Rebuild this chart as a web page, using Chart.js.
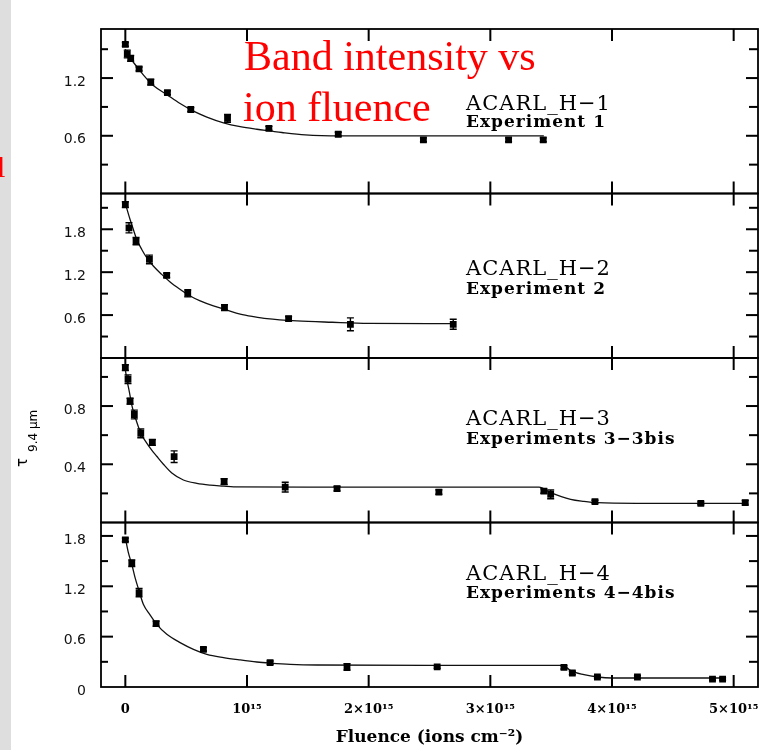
<!DOCTYPE html>
<html>
<head>
<meta charset="utf-8">
<title>Band intensity vs ion fluence</title>
<script src="https://cdn.jsdelivr.net/npm/chart.js@4.4.1/dist/chart.umd.min.js"></script>
<style>
    html, body { margin: 0; padding: 0; background: #fff; }
    canvas { display: block; }
</style>
</head>
<body>
<canvas id="fluenceChart" width="764" height="750"></canvas>
<script>
// fluence is in units of 1e15 ions cm^-2, tau is the 9.4 um band depth

// ACARL_H-1, experiment 1
const fluence1 = [0, 0.016, 0.044, 0.113, 0.209, 0.346, 0.538, 0.84, 1.18, 1.75, 2.45, 3.15, 3.435];
const tau1 = [1.55, 1.45, 1.405, 1.295, 1.158, 1.048, 0.873, 0.781, 0.678, 0.616, 0.558, 0.558, 0.558];
const err1 = [0.02, 0.04, 0.03, 0.02, 0.03, 0.02, 0.02, 0.04, 0.02, 0.02, 0.02, 0.02, 0.02];
const fitFluence1 = [0, 0.025, 0.066, 0.113, 0.176, 0.23, 0.341, 0.45, 0.56, 0.67, 0.807, 0.944, 1.081, 1.191, 1.287, 1.479, 1.767, 2.5, 3.44];
const fitTau1 = [1.50, 1.432, 1.364, 1.288, 1.192, 1.123, 1.028, 0.935, 0.856, 0.795, 0.735, 0.695, 0.668, 0.65, 0.634, 0.609, 0.599, 0.599, 0.599];

// ACARL_H-2, experiment 2
const fluence2 = [0, 0.03, 0.088, 0.198, 0.34, 0.513, 0.815, 1.342, 1.85, 2.695];
const tau2 = [2.145, 1.82, 1.634, 1.378, 1.155, 0.904, 0.704, 0.551, 0.471, 0.471];
const err2 = [0.04, 0.07, 0.05, 0.06, 0.03, 0.05, 0.04, 0.03, 0.09, 0.07];
const fitFluence2 = [0.006, 0.039, 0.066, 0.094, 0.135, 0.176, 0.23, 0.299, 0.368, 0.45, 0.533, 0.615, 0.724, 0.835, 0.944, 1.054, 1.164, 1.41, 1.70, 2.0, 2.695];
const fitTau2 = [2.123, 1.936, 1.796, 1.657, 1.517, 1.402, 1.286, 1.169, 1.063, 0.96, 0.867, 0.798, 0.728, 0.67, 0.615, 0.579, 0.551, 0.519, 0.5, 0.485, 0.481];

// ACARL_H-3, experiments 3-3bis
const fluence3 = [0, 0.022, 0.039, 0.074, 0.127, 0.222, 0.401, 0.812, 1.314, 1.74, 2.577, 3.44, 3.496, 3.86, 4.73, 5.095];
const tau3 = [1.064, 0.984, 0.833, 0.742, 0.612, 0.55, 0.452, 0.281, 0.243, 0.232, 0.209, 0.216, 0.193, 0.143, 0.132, 0.136];
const err3 = [0.02, 0.03, 0.02, 0.03, 0.03, 0.02, 0.04, 0.02, 0.034, 0.015, 0.015, 0.015, 0.03, 0.01, 0.01, 0.015];
const fitFluence3 = [0, 0.011, 0.033, 0.053, 0.08, 0.107, 0.135, 0.176, 0.217, 0.258, 0.313, 0.382, 0.477, 0.588, 0.697, 0.807, 0.889, 1.5, 2.5, 3.40, 3.496, 3.66, 3.77, 3.88, 4.2, 5.12];
const fitTau3 = [1.05, 0.989, 0.898, 0.806, 0.726, 0.658, 0.600, 0.545, 0.497, 0.455, 0.40, 0.34, 0.292, 0.269, 0.257, 0.25, 0.245, 0.243, 0.243, 0.243, 0.205, 0.159, 0.145, 0.136, 0.132, 0.132];

// ACARL_H-4, experiments 4-4bis
const fluence4 = [0, 0.053, 0.113, 0.253, 0.642, 1.19, 1.822, 2.563, 3.605, 3.674, 3.88, 4.209, 4.826, 4.909];
const tau4 = [1.754, 1.475, 1.125, 0.755, 0.449, 0.29, 0.239, 0.239, 0.234, 0.167, 0.119, 0.119, 0.095, 0.095];
const err4 = [0.02, 0.04, 0.05, 0.03, 0.02, 0.02, 0.04, 0.015, 0.02, 0.02, 0.015, 0.015, 0.015, 0.015];
const fitFluence4 = [0, 0.025, 0.053, 0.08, 0.113, 0.148, 0.203, 0.258, 0.341, 0.45, 0.56, 0.67, 0.807, 0.944, 1.081, 1.19, 1.356, 1.575, 2.5, 3.60, 3.66, 3.77, 3.88, 4.0, 4.936];
const fitTau4 = [1.78, 1.60, 1.463, 1.304, 1.145, 0.986, 0.86, 0.747, 0.628, 0.529, 0.449, 0.389, 0.35, 0.322, 0.298, 0.285, 0.27, 0.262, 0.258, 0.258, 0.195, 0.147, 0.119, 0.107, 0.107];

// axis labels
const panelNames = ["ACARL_H−1", "ACARL_H−2", "ACARL_H−3", "ACARL_H−4"];
const panelExperiments = ["Experiment 1", "Experiment 2", "Experiments 3−3bis", "Experiments 4−4bis"];
const yTickLabels = [[0.6, 1.2], [0.6, 1.2, 1.8], [0.4, 0.8], [0, 0.6, 1.2, 1.8]];
const xTickValues = [0, 1, 2, 3, 4, 5];

const panelIds = ["y1", "y2", "y3", "y4"];
const yRanges = [[0, 1.71, 0.3], [0, 2.3, 0.3], [0, 1.13, 0.2], [0, 1.96, 0.3]];
const nameBaselines = [[110, 127], [275, 294], [425, 444], [580, 598]];

function pts(xs, ys) {
    return xs.map((x, i) => ({ x: x, y: ys[i] }));
}

function isLabelled(k, v) {
    return yTickLabels[k].some(l => Math.abs(l - v) < 1e-6);
}

function xTickText(v) {
    if (!xTickValues.some(t => Math.abs(t - v) < 1e-6)) return "";
    if (v === 0) return "0";
    if (v === 1) return "10¹⁵";
    return v + "×10¹⁵";
}

const panels = [
    { id: "y1", fx: fluence1, fy: tau1, err: err1, cx: fitFluence1, cy: fitTau1 },
    { id: "y2", fx: fluence2, fy: tau2, err: err2, cx: fitFluence2, cy: fitTau2 },
    { id: "y3", fx: fluence3, fy: tau3, err: err3, cx: fitFluence3, cy: fitTau3 },
    { id: "y4", fx: fluence4, fy: tau4, err: err4, cx: fitFluence4, cy: fitTau4 }
];

const datasets = [];
panels.forEach(p => {
    datasets.push({
        data: pts(p.fx, p.fy), yAxisID: p.id, errors: p.err,
        pointStyle: "rect", pointRadius: 4.8, backgroundColor: "#000", borderColor: "#000", borderWidth: 0, order: 1
    });
    datasets.push({
        data: pts(p.cx, p.cy), yAxisID: p.id, showLine: true, pointRadius: 0,
        borderColor: "#111", borderWidth: 1.3, cubicInterpolationMode: "monotone", order: 2
    });
});

const scales = {
    x: {
        type: "linear", min: -0.2, max: 5.2,
        grid: { display: false, drawTicks: false }, border: { display: false },
        ticks: {
            stepSize: 1, includeBounds: false, autoSkip: false, maxRotation: 0, padding: 15, color: "#000",
            font: { family: "DejaVu Serif", size: 13, weight: "bold" },
            callback: v => xTickText(v)
        },
        title: {
            display: true, text: "Fluence (ions cm⁻²)", color: "#000",
            font: { family: "DejaVu Serif", size: 17, weight: "bold" }, padding: { top: 0, bottom: 2 }
        },
        afterFit: s => { s.height = 63; s.paddingLeft = 0; s.paddingRight = 0; }
    }
};
panelIds.forEach((id, k) => {
    scales[id] = {
        type: "linear", position: "left", stack: "tau", stackWeight: 1, weight: 4 - k,
        min: yRanges[k][0], max: yRanges[k][1],
        grid: { display: false, drawTicks: false }, border: { display: false },
        ticks: {
            stepSize: yRanges[k][2], includeBounds: false, autoSkip: false, padding: 15, labelOffset: 4,
            color: "#111", font: { family: "DejaVu Sans", size: 14 },
            callback: v => isLabelled(k, v) ? String(Math.round(v * 10) / 10) : ""
        },
        afterFit: s => { s.width = 101; s.paddingTop = 0; s.paddingBottom = 0; }
    };
});

/** frames, inward ticks, error bars and texts */
const decorations = {
    id: "decorations",
    beforeDraw(chart) {
        const c = chart.ctx;
        c.save();
        c.fillStyle = "#fff";
        c.fillRect(0, 0, chart.width, chart.height);
        c.fillStyle = "#dedede";
        c.fillRect(0, 0, 11, chart.height);
        c.restore();
    },
    afterDatasetsDraw(chart) {
        const c = chart.ctx;
        c.save();
        c.strokeStyle = "#000";
        c.lineWidth = 1.4;
        chart.data.datasets.forEach((ds, i) => {
            if (!ds.errors) return;
            const ys = chart.scales[ds.yAxisID];
            chart.getDatasetMeta(i).data.forEach((pt, j) => {
                const v = ds.data[j].y, e = ds.errors[j];
                const top = ys.getPixelForValue(v + e), bot = ys.getPixelForValue(v - e);
                c.beginPath();
                c.moveTo(pt.x, top); c.lineTo(pt.x, bot);
                c.moveTo(pt.x - 3.5, top); c.lineTo(pt.x + 3.5, top);
                c.moveTo(pt.x - 3.5, bot); c.lineTo(pt.x + 3.5, bot);
                c.stroke();
            });
        });
        c.restore();
    },
    afterDraw(chart) {
        const c = chart.ctx, area = chart.chartArea, xs = chart.scales.x;
        const w = 2;
        c.save();
        c.strokeStyle = "#000";
        c.fillStyle = "#000";
        c.lineWidth = 1.8;
        panelIds.forEach((id, k) => {
            const s = chart.scales[id];
            c.strokeRect(area.left, s.top, area.right - area.left, s.bottom - s.top);
            // inward y ticks on both sides
            const step = yRanges[k][2];
            for (let n = 1; n * step < yRanges[k][1]; n++) {
                const v = Math.round(n * step * 10) / 10;
                const y = s.getPixelForValue(v);
                const major = isLabelled(k, v);
                c.fillRect(area.left, y - w / 2, major ? 12 : 7, w);
                c.fillRect(area.right - (major ? 12 : 9), y - w / 2, major ? 12 : 9, w);
            }
            // inward x ticks at top and bottom of every panel
            xTickValues.forEach(v => {
                const x = xs.getPixelForValue(v);
                c.fillRect(x - w / 2, s.top, w, 12);
                c.fillRect(x - w / 2, s.bottom - 12, w, 12);
            });

            // panel names
            c.textAlign = "left";
            c.textBaseline = "alphabetic";
            c.letterSpacing = "1px";
            c.font = "21px 'DejaVu Serif'";
            c.fillText(panelNames[k], 466, nameBaselines[k][0]);
            c.font = "bold 17px 'DejaVu Serif'";
            c.fillText(panelExperiments[k], 466, nameBaselines[k][1]);
            c.letterSpacing = "0px";
        });

        // y axis title: tau_(9.4 um)
        c.save();
        c.translate(27, 467);
        c.rotate(-Math.PI / 2);
        c.fillStyle = "#000";
        c.font = "15px 'DejaVu Sans'";
        c.fillText("τ", 0, 0);
        c.font = "12px 'DejaVu Sans'";
        c.fillText("9.4 μm", 15, 10);
        c.restore();

        // red slide title
        c.fillStyle = "#ff0000";
        c.font = "42px 'Liberation Serif'";
        c.fillText("Band intensity vs", 244, 70);
        c.fillText("ion fluence", 243, 121);
        c.font = "30px 'Liberation Serif'";
        c.fillText("l", -3, 177);
        c.restore();
    }
};

window.addEventListener("DOMContentLoaded", function () {
    const canvas = document.getElementById("fluenceChart");
    new Chart(canvas.getContext("2d"), {
        type: "scatter",
        data: { datasets: datasets },
        options: {
            responsive: false,
            animation: false,
            layout: { padding: { top: 29, right: 6, bottom: 0, left: 0 } },
            plugins: { legend: { display: false }, tooltip: { enabled: false }, title: { display: false } },
            scales: scales
        },
        plugins: [decorations]
    });
});
</script>
</body>
</html>
